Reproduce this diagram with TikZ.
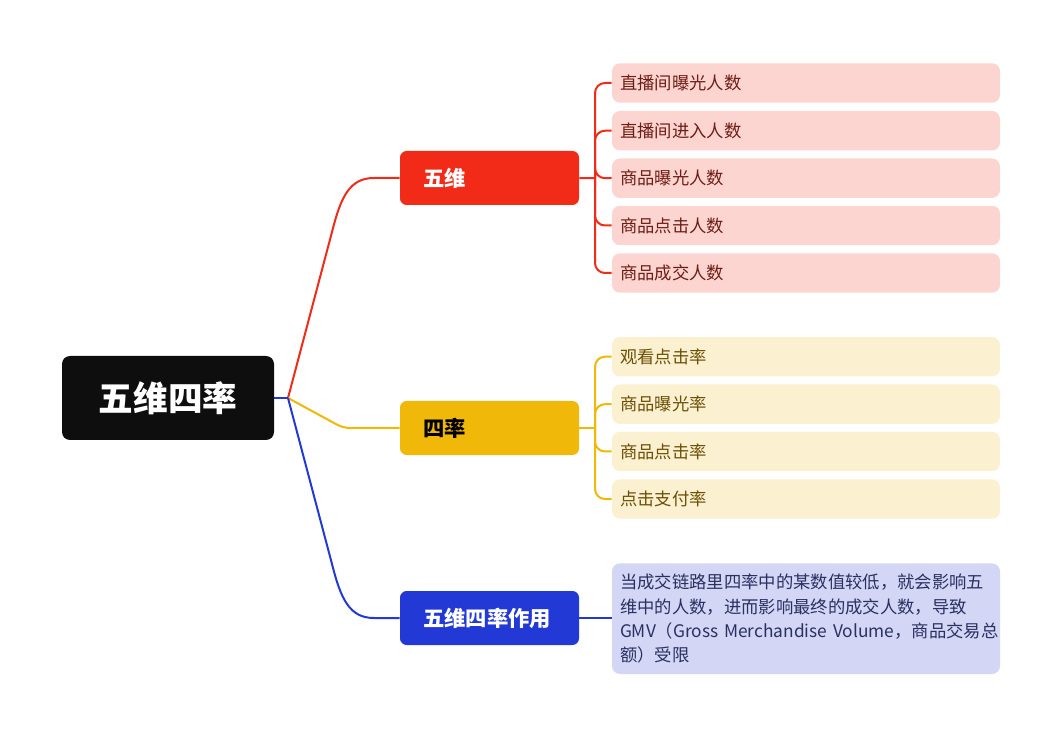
\documentclass[tikz,border=0pt]{standalone}
\usepackage{fontspec}
\setmainfont{Noto Sans CJK SC}
\definecolor{cred}{HTML}{F22A18}
\definecolor{cyel}{HTML}{F0B808}
\definecolor{cblu}{HTML}{2339D6}
\definecolor{lred}{HTML}{FCD5D1}
\definecolor{lyel}{HTML}{FBF0CF}
\definecolor{lblu}{HTML}{D3D7F5}
\definecolor{tred}{HTML}{6E1D14}
\definecolor{tyel}{HTML}{6B5006}
\definecolor{tblu}{HTML}{2A3062}
\definecolor{croot}{HTML}{0E0E0E}
\begin{document}
\begin{tikzpicture}[x=0.75pt,y=-0.75pt,
  rootbox/.style={fill=croot,text=white,rounded corners=6pt,minimum width=159pt,minimum height=63pt,font=\bfseries\fontsize{26}{30}\selectfont,inner sep=0pt},
  branchbox/.style={rounded corners=5pt,minimum height=40.5pt,text width=99.75pt,inner xsep=17.25pt,inner ysep=0pt,align=left,font=\bfseries\fontsize{16}{19}\selectfont},
  leafbox/.style={rounded corners=6pt,minimum height=29.6pt,text width=279pt,inner xsep=6pt,inner ysep=0pt,align=left,font=\fontsize{13}{18.2}\selectfont},
  conn/.style={line width=1.5pt},
]
\useasboundingbox (0,0) rectangle (1063,737);
% nodes
\node[rootbox] (root) at (168,398) {五维四率};
\node[branchbox,fill=cred,text=white] (b1) at (489.5,178) {五维};
\node[branchbox,fill=cyel,text=black] (b2) at (489.5,428) {四率};
\node[branchbox,fill=cblu,text=white] (b3) at (489.5,618) {五维四率作用};

\node[leafbox,fill=lred,text=tred] (r1) at (806,83) {直播间曝光人数};
\node[leafbox,fill=lred,text=tred] (r2) at (806,130.7) {直播间进入人数};
\node[leafbox,fill=lred,text=tred] (r3) at (806,178.2) {商品曝光人数};
\node[leafbox,fill=lred,text=tred] (r4) at (806,225.5) {商品点击人数};
\node[leafbox,fill=lred,text=tred] (r5) at (806,273) {商品成交人数};

\node[leafbox,fill=lyel,text=tyel] (y1) at (806,356.7) {观看点击率};
\node[leafbox,fill=lyel,text=tyel] (y2) at (806,404.2) {商品曝光率};
\node[leafbox,fill=lyel,text=tyel] (y3) at (806,451.5) {商品点击率};
\node[leafbox,fill=lyel,text=tyel] (y4) at (806,499) {点击支付率};

\node[leafbox,fill=lblu,text=tblu,minimum height=83pt] (bl) at (806,618.7)
  {\mbox{当成交链路里四率中的某数值较低，就会影响五}\\\mbox{维中的人数，进而影响最终的成交人数，导致}\\\mbox{GMV（Gross Merchandise Volume，商品交易总}\\\mbox{额）受限}};

% connectors
\coordinate (J) at (288,398);
\draw[conn,cred] (J) -- (332,232) .. controls (341,196) and (350,178) .. (374,178) -- (b1.west);
\draw[conn,cyel] (J) -- (334,423) .. controls (341,427) and (345,428) .. (352,428) -- (b2.west);
\draw[conn,cblu] (J) -- (332,564) .. controls (341,600) and (350,618) .. (374,618) -- (b3.west);
\draw[conn,cblu] (root.east) -- (J);

\coordinate (bar1) at (595,178.2);
\draw[conn,cred] (b1.east) -- (bar1);
\foreach \n in {r1,r2,r3,r4,r5}
  \draw[conn,cred,rounded corners=7.5pt] (bar1) |- (\n.west);

\coordinate (bar2) at (595,428);
\draw[conn,cyel] (b2.east) -- (bar2);
\foreach \n in {y1,y2,y3,y4}
  \draw[conn,cyel,rounded corners=7.5pt] (bar2) |- (\n.west);

\draw[conn,cblu] (b3.east) -- (bl.west |- b3.east);
\end{tikzpicture}
\end{document}
